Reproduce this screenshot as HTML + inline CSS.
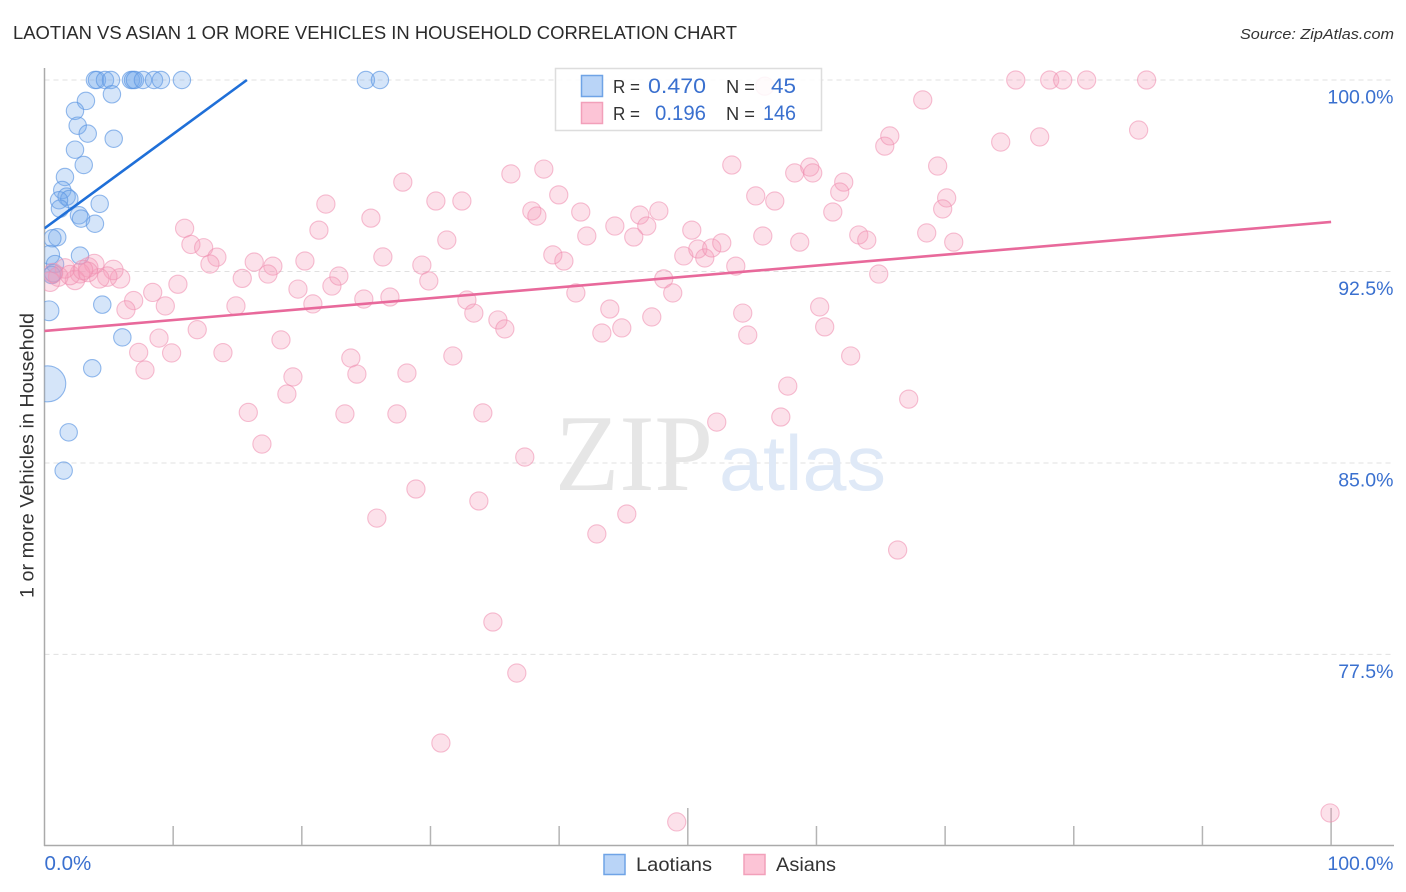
<!DOCTYPE html>
<html>
<head>
<meta charset="utf-8">
<title>Laotian vs Asian 1 or more Vehicles in Household Correlation Chart</title>
<style>
html,body{margin:0;padding:0;background:#fff;width:1406px;height:892px;overflow:hidden}
svg{display:block;font-family:"Liberation Sans",sans-serif}
</style>
</head>
<body>
<svg id="chart" width="1406" height="892" viewBox="0 0 1406 892" xmlns="http://www.w3.org/2000/svg">
  <rect width="1406" height="892" fill="#fff"/>
  <text x="13" y="39" font-size="18.5" fill="#2b2b2b" textLength="724" lengthAdjust="spacingAndGlyphs">LAOTIAN VS ASIAN 1 OR MORE VEHICLES IN HOUSEHOLD CORRELATION CHART</text>
  <text x="1394" y="39" font-size="15" font-style="italic" fill="#333" text-anchor="end" textLength="154" lengthAdjust="spacingAndGlyphs">Source: ZipAtlas.com</text>

  <g id="grid"></g>

  <g>
    <text x="555" y="490" font-family="'Liberation Serif',serif" font-size="109" fill="#e6e6e6" textLength="158" lengthAdjust="spacingAndGlyphs">ZIP</text>
    <text x="719" y="490" font-size="78" fill="#dfe9f7" textLength="167" lengthAdjust="spacingAndGlyphs">atlas</text>
  </g>

  <g id="axes">
    <line x1="44.5" y1="68" x2="44.5" y2="846" stroke="#aaa" stroke-width="1.5"/>
    <line x1="44" y1="845.5" x2="1394" y2="845.5" stroke="#aaa" stroke-width="1.5"/>
  </g>
  <g id="ticks"></g>

  <defs>
    <clipPath id="plot-clip"><rect x="44.5" y="60" width="1361" height="785"/></clipPath>
  </defs>
  <g id="marks" clip-path="url(#plot-clip)"></g>

  <g id="ylabels"></g>
  <g id="xlabels"></g>

  <text transform="translate(33.5,598) rotate(-90)" font-size="19" fill="#333" textLength="285" lengthAdjust="spacingAndGlyphs">1 or more Vehicles in Household</text>

  <g>
    <rect x="555.5" y="68.5" width="266" height="62" fill="#fff" fill-opacity="0.86" stroke="#ddd" stroke-width="1.5"/>
    <rect x="581.5" y="75.5" width="21" height="21" fill="#b9d4f7" stroke="#6fa3e6" stroke-width="1.5"/>
    <rect x="581.5" y="102.5" width="21" height="21" fill="#fcc4d6" stroke="#f2a0ba" stroke-width="1.5"/>
    <text x="613" y="93" font-size="18.5" fill="#333" textLength="27" lengthAdjust="spacingAndGlyphs">R =</text>
    <text x="648" y="93" font-size="21" fill="#3a70cf" textLength="58" lengthAdjust="spacingAndGlyphs">0.470</text>
    <text x="726" y="93" font-size="18.5" fill="#333" textLength="29" lengthAdjust="spacingAndGlyphs">N =</text>
    <text x="771" y="93" font-size="21" fill="#3a70cf" textLength="25" lengthAdjust="spacingAndGlyphs">45</text>
    <text x="613" y="120" font-size="18.5" fill="#333" textLength="27" lengthAdjust="spacingAndGlyphs">R =</text>
    <text x="655" y="120" font-size="21" fill="#3a70cf" textLength="51" lengthAdjust="spacingAndGlyphs">0.196</text>
    <text x="726" y="120" font-size="18.5" fill="#333" textLength="29" lengthAdjust="spacingAndGlyphs">N =</text>
    <text x="763" y="120" font-size="21" fill="#3a70cf" textLength="33" lengthAdjust="spacingAndGlyphs">146</text>
  </g>

  <g>
    <rect x="604" y="854.5" width="21" height="20" fill="#b9d4f7" stroke="#6fa3e6" stroke-width="1.5"/>
    <text x="636" y="871" font-size="19.5" fill="#333" textLength="76" lengthAdjust="spacingAndGlyphs">Laotians</text>
    <rect x="744" y="854.5" width="21" height="20" fill="#fcc4d6" stroke="#f2a0ba" stroke-width="1.5"/>
    <text x="776" y="871" font-size="19.5" fill="#333" textLength="60" lengthAdjust="spacingAndGlyphs">Asians</text>
  </g>
</svg>

<script>
const yTickValues = [100, 92.5, 85, 77.5];
const yTickLabels = ["100.0%", "92.5%", "85.0%", "77.5%"];
const xTickValues = [10, 20, 30, 40, 50, 60, 70, 80, 90, 100];
const xMajorTicks = [50, 100];
const xEdgeValues = [0, 100];
const xEdgeLabels = ["0.0%", "100.0%"];

const laotianShare = [3.92,4.08,4.70,5.17,6.72,6.88,7.03,7.65,8.51,9.05,10.68,24.98,26.07,
  5.24,3.22,2.37,2.58,3.36,5.38,2.37,3.05,1.59,1.38,1.72,1.93,1.13,4.29,1.20,2.68,2.84,3.92,
  0.99,0.61,0.43,2.76,0.82,0.68,0.56,4.49,0.35,6.05,3.71,0.25,1.88,1.49];
const laotianVehicles = [100,100,100,100,100,100,100,100,100,100,100,100,100,
  99.44,99.18,98.79,98.21,97.90,97.70,97.27,96.67,96.20,95.69,95.43,95.34,95.29,95.15,94.96,94.70,94.57,94.37,
  93.84,93.80,93.15,93.12,92.79,92.43,92.36,91.20,90.96,89.92,88.71,88.10,86.20,84.70];
const laotianWeights = [1,1,1,1,1,1,1,1,1,1,1,1,1,
  1,1,1,1,1,1,1,1,1,1,1,1,1,1,1,1,1,1,
  1,1,1.2,1,1,1,1,1,1.3,1,1,4.3,1,1];

const asianShare = [10.89,11.38,12.37,13.40,12.86,16.30,15.37,10.37,8.41,6.93,6.33,9.39,14.88,11.87,8.90,9.88,7.32,13.87,7.81,15.84,
  5.87,5.35,4.88,4.26,3.87,3.40,2.76,2.37,1.59,1.07,0.43,1.98,0.66,3.38,2.99,
  17.75,17.37,19.70,20.24,20.86,22.34,22.88,24.82,26.85,26.30,27.85,21.87,21.33,25.37,30.42,31.27,29.33,29.87,32.44,32.83,33.37,35.24,35.78,
  36.25,38.81,39.97,37.88,38.27,39.51,40.37,41.68,42.15,44.33,46.27,46.81,45.80,47.75,50.31,49.69,50.78,51.32,51.86,52.64,53.73,48.13,48.83,41.30,
  43.94,44.87,43.32,47.20,53.42,55.28,56.76,55.83,58.31,59.48,59.71,62.12,61.81,61.27,58.70,63.29,63.91,65.31,65.70,68.26,69.42,70.12,69.81,68.57,70.67,64.84,
  74.32,77.35,75.49,78.13,79.14,81.00,85.66,85.04,55.98,54.27,54.66,60.25,60.64,62.66,57.77,57.23,67.17,52.25,66.31,45.26,42.93,33.76,28.87,37.33,34.07,28.17,31.74,
  23.81,24.28,18.38,19.31,18.84,23.35,27.39,16.90,25.83,34.85,36.71,30.81,49.14,99.92];
const asianVehicles = [94.19,93.56,93.43,93.06,92.79,92.87,92.23,92.00,91.68,91.36,91.00,91.15,91.15,90.22,89.89,89.31,89.33,89.32,88.64,86.98,
  92.23,92.56,92.30,92.23,92.79,92.66,92.43,92.17,92.62,92.30,92.10,92.36,92.44,92.48,92.56,
  92.71,92.40,91.81,92.91,91.23,91.93,92.32,91.42,91.50,93.07,96.00,95.14,94.12,94.59,95.26,93.73,92.75,92.13,95.26,91.38,90.87,90.60,90.25,
  96.32,96.51,95.50,94.87,94.67,93.15,92.91,94.83,93.89,94.28,94.71,94.28,93.85,94.87,94.12,93.11,93.38,93.03,93.42,93.62,92.71,92.21,91.66,91.66,
  91.03,90.29,90.09,90.72,96.67,95.46,95.26,93.89,96.36,96.59,96.36,96.00,95.61,94.83,93.65,93.93,93.73,97.41,97.81,99.22,96.63,95.38,94.95,94.01,93.65,92.40,
  97.57,97.77,100,100,100,100,100,98.04,99.76,90.87,90.01,91.11,90.33,89.19,88.01,86.80,87.50,86.60,81.59,83.00,82.22,83.51,83.98,85.23,86.96,88.52,89.19,
  89.11,88.48,89.82,88.37,87.70,86.92,86.92,85.74,82.84,78.77,76.77,74.03,70.94,71.29];
const asianWeights = [1,1,1,1,1,1,1,1,1,1,1,1,1,1,1,1,1,1,1,1,
  1.15,1.15,1.15,1.15,1.15,1.15,1.15,1.15,1.15,1.15,1.15,1.15,1.15,1.15,1.15];

const laotianTrendX = [0, 15.73];
const laotianTrendY = [94.19, 100];
const asianTrendX = [0, 100];
const asianTrendY = [90.17, 94.44];

const SVG_NS = "http://www.w3.org/2000/svg";
function xScale(v) { return 44.5 + v * 12.866; }
function yScale(v) { return 80 + (100 - v) * 25.53; }
function radius(base, w) { return base * Math.sqrt(w); }
function make(tag, parent, attrs) {
  const el = document.createElementNS(SVG_NS, tag);
  for (const k in attrs) el.setAttribute(k, attrs[k]);
  parent.appendChild(el);
  return el;
}

const gridG = document.getElementById("grid");
const yLabelG = document.getElementById("ylabels");
yTickValues.forEach((v, i) => {
  const g = make("line", gridG, {x1: 44.5, x2: 1394, y1: yScale(v), y2: yScale(v), stroke: "#e0e0e0", "stroke-width": 1, "stroke-dasharray": "5 4"});
  
  
  const t = make("text", yLabelG, {x: 1393.5, y: yScale(v) + 23.5, "font-size": 19.5, fill: "#3a70cf", "text-anchor": "end"});
  t.textContent = yTickLabels[i];
  
  
});

const tickG = document.getElementById("ticks");
xTickValues.forEach(v => {
  const top = xMajorTicks.includes(v) ? 808 : 826;
  const tk = make("line", tickG, {x1: xScale(v), x2: xScale(v), y1: top, y2: 845, stroke: "#b4b4b4", "stroke-width": 1.5});
  
  
});

const xLabelG = document.getElementById("xlabels");
xEdgeValues.forEach((v, i) => {
  const t = make("text", xLabelG, {x: i === 0 ? xScale(v) : 1393.5, y: 870, "font-size": i === 0 ? 20.5 : 19.5, fill: "#3a70cf", "text-anchor": i === 0 ? "start" : "end"});
  t.textContent = xEdgeLabels[i];
  
  
});

const marks = document.getElementById("marks");
laotianShare.forEach((v, i) => {
  const c = make("circle", marks, {cx: xScale(v), cy: yScale(laotianVehicles[i]), r: radius(8.7, laotianWeights[i]), fill: "#74a9ec", "fill-opacity": 0.3, stroke: "#5b95e2", "stroke-opacity": 0.65, "stroke-width": 1.1});
  
  
});
asianShare.forEach((v, i) => {
  const w = asianWeights[i] === undefined ? 1 : asianWeights[i];
  const c = make("circle", marks, {cx: xScale(v), cy: yScale(asianVehicles[i]), r: radius(9.1, w), fill: "#f59ab8", "fill-opacity": 0.3, stroke: "#ee8bad", "stroke-opacity": 0.55, "stroke-width": 1.1});
  
  
});

const blueLine = make("line", marks, {x1: xScale(laotianTrendX[0]), y1: yScale(laotianTrendY[0]), x2: xScale(laotianTrendX[1]), y2: yScale(laotianTrendY[1]), stroke: "#1f6fd8", "stroke-width": 2.6});


const pinkLine = make("line", marks, {x1: xScale(asianTrendX[0]), y1: yScale(asianTrendY[0]), x2: xScale(asianTrendX[1]), y2: yScale(asianTrendY[1]), stroke: "#e8699b", "stroke-width": 2.6});


</script>
</body>
</html>
